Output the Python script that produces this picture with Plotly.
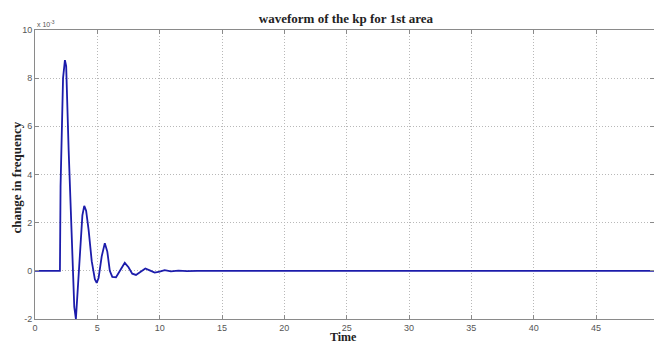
import plotly.graph_objects as go

# time (s) and change in frequency (x 1e-3)
time = [0, 2.0, 2.05, 2.25, 2.4, 2.5, 2.7, 3.0, 3.15, 3.28, 3.45, 3.7, 3.8, 3.95,
        4.1, 4.3, 4.55, 4.8, 4.95, 5.1, 5.35, 5.6, 5.8, 6.0, 6.2, 6.5, 6.8, 7.2,
        7.5, 7.8, 8.1, 8.4, 8.85, 9.2, 9.6, 10.0, 10.4, 10.9, 11.5, 12.2, 13.0, 50.0]
dfreq = [0, 0, 3.5, 8.0, 8.75, 8.5, 5.0, 0.0, -1.5, -2.0, -0.5, 1.9, 2.3, 2.7,
         2.5, 1.7, 0.4, -0.35, -0.5, -0.3, 0.6, 1.15, 0.8, 0.0, -0.25, -0.27, 0.0, 0.33,
         0.15, -0.12, -0.17, -0.05, 0.1, 0.02, -0.07, -0.03, 0.03, -0.02, 0.01, -0.01, 0, 0]

x_ticks = [0, 5, 10, 15, 20, 25, 30, 35, 40, 45, 50]
y_ticks = [-2, 0, 2, 4, 6, 8, 10]

title_text = "waveform of the kp for 1st area"
x_title = "Time"
y_title = "change in frequency"

fig = go.Figure()
fig.add_trace(go.Scatter(
    x=time, y=dfreq, mode="lines",
    line=dict(color="#1c1cab", width=1.8),
    showlegend=False,
))

serif = "Liberation Serif, Times New Roman, serif"
tickfont = dict(family="Liberation Sans, Arial, sans-serif", size=9, color="#555555")
labelfont = dict(family=serif, size=13, color="#222222")

axis_common = dict(
    showline=True, linecolor="#8a8a8a", linewidth=1, mirror="ticks",
    ticks="inside", ticklen=4, tickcolor="#8a8a8a",
    showgrid=True, gridcolor="#b8b8b8", griddash="1px,2px", gridwidth=1,
    zeroline=False, tickfont=tickfont,
)

fig.update_layout(
    width=654, height=342,
    margin=dict(l=35, r=0, t=30, b=23),
    paper_bgcolor="white", plot_bgcolor="white",
    title=dict(text="<b>" + title_text + "</b>", x=0.529, xanchor="center",
               y=0.947, yanchor="middle", font=labelfont),
    xaxis=dict(range=[0, 49.65], tickvals=x_ticks, ticktext=[str(v) for v in x_ticks],
               ticklabelstandoff=0, **axis_common),
    yaxis=dict(range=[-2, 10], tickvals=y_ticks, ticktext=[str(v) for v in y_ticks],
               **axis_common),
)

fig.add_annotation(
    text="x 10<sup>-3</sup>", xref="paper", yref="paper", x=0.0, y=1.0,
    xanchor="left", yanchor="bottom", showarrow=False,
    font=dict(family="Liberation Sans, Arial, sans-serif", size=7, color="#555555"),
)
fig.add_annotation(
    text="<b>" + x_title + "</b>", xref="paper", yref="paper", x=0.4985, y=-0.064,
    xanchor="center", yanchor="middle", showarrow=False,
    font=dict(family=serif, size=12, color="#222222"),
)
fig.add_annotation(
    text="<b>" + y_title + "</b>", xref="paper", yref="paper", x=-0.0305, y=0.49,
    xanchor="center", yanchor="middle", textangle=-90, showarrow=False, font=labelfont,
)

fig.write_html("out.html")
